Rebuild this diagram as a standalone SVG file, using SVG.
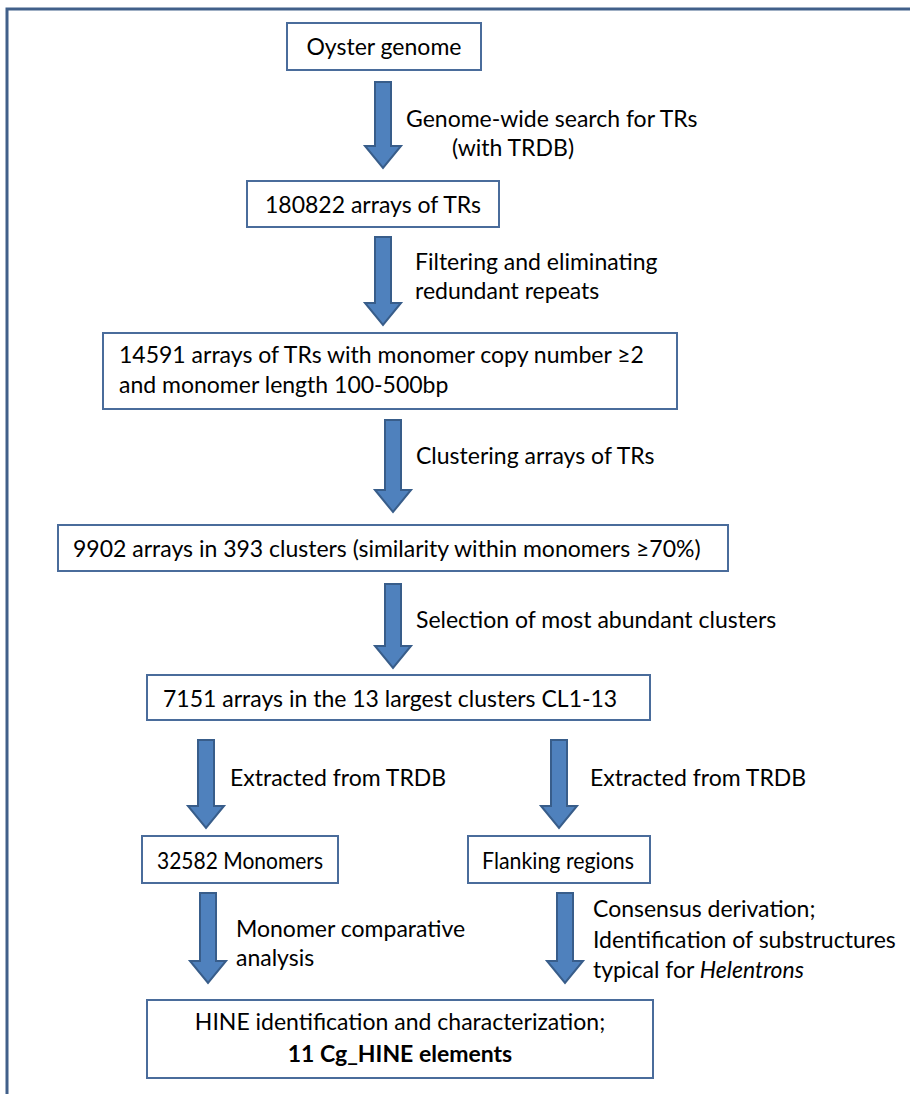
<svg xmlns="http://www.w3.org/2000/svg" width="910" height="1094" viewBox="0 0 910 1094">
<style>
.box{fill:#fff;stroke:#4A6C9B;stroke-width:2}
.arr{fill:#4F81BD;stroke:#385D8A;stroke-width:2;stroke-linejoin:miter}
text{font-family:Lato,"Open Sans","Liberation Sans",sans-serif;font-size:23px;fill:#000}
.c{text-anchor:middle}
</style>
<rect x="0" y="0" width="910" height="1094" fill="#fff"/>
<rect id="frame" x="7" y="9" width="1000" height="1200" fill="none" stroke="#41608A" stroke-width="3"/>
<g id="connectors">
<path class="arr" d="M375,82H391V146H401L383,168L365,146H375Z"/>
<path class="arr" d="M375,237H391V303H401L383,325L365,303H375Z"/>
<path class="arr" d="M385,420H401V490H411L393,512L375,490H385Z"/>
<path class="arr" d="M385,584H401V646H411L393,668L375,646H385Z"/>
<path class="arr" d="M198,740H214V806H224L206,828L188,806H198Z"/>
<path class="arr" d="M551,740H567V806H577L559,828L541,806H551Z"/>
<path class="arr" d="M200,893H216V961H226L208,983L190,961H200Z"/>
<path class="arr" d="M557,893H573V961H583L565,983L547,961H557Z"/>
<text x="406" y="127">Genome-wide search for TRs</text>
<text x="513" y="156" class="c">(with TRDB)</text>
<text x="415" y="270">Filtering and eliminating</text>
<text x="415" y="299">redundant repeats</text>
<text x="416" y="464">Clustering arrays of TRs</text>
<text x="416" y="628">Selection of most abundant clusters</text>
<text x="230" y="786">Extracted from TRDB</text>
<text x="590" y="786">Extracted from TRDB</text>
<text x="236" y="937">Monomer comparative</text>
<text x="236" y="966">analysis</text>
<text x="593" y="917">Consensus derivation;</text>
<text x="593" y="948">Identification of substructures</text>
<text x="593" y="978">typical for <tspan font-style="italic">Helentrons</tspan></text>
</g>
<g id="n1"><rect class="box" x="287" y="23" width="194" height="47"/><text x="384" y="55" class="c">Oyster genome</text></g>
<g id="n2"><rect class="box" x="247" y="181" width="252" height="46"/><text x="265" y="213">180822 arrays of TRs</text></g>
<g id="n3"><rect class="box" x="103" y="333" width="574" height="76"/><text x="119" y="363">14591 arrays of TRs with monomer copy number ≥2</text><text x="119" y="393">and monomer length 100-500bp</text></g>
<g id="n4"><rect class="box" x="58" y="525" width="670" height="46"/><text x="73" y="557">9902 arrays in 393 clusters (similarity within monomers ≥70%)</text></g>
<g id="n5"><rect class="box" x="147" y="675" width="503" height="45"/><text x="163" y="707">7151 arrays in the 13 largest clusters CL1-13</text></g>
<g id="n6"><rect class="box" x="142" y="836" width="196" height="47"/><text x="157" y="869" textLength="166" lengthAdjust="spacingAndGlyphs">32582 Monomers</text></g>
<g id="n7"><rect class="box" x="468" y="836" width="182" height="47"/><text x="482" y="869" textLength="152" lengthAdjust="spacingAndGlyphs">Flanking regions</text></g>
<g id="n8"><rect class="box" x="147" y="1000" width="506" height="78"/><text x="400" y="1030" class="c">HINE identification and characterization;</text><text x="400" y="1062" class="c" font-weight="bold">11 Cg_HINE elements</text></g>
</svg>
